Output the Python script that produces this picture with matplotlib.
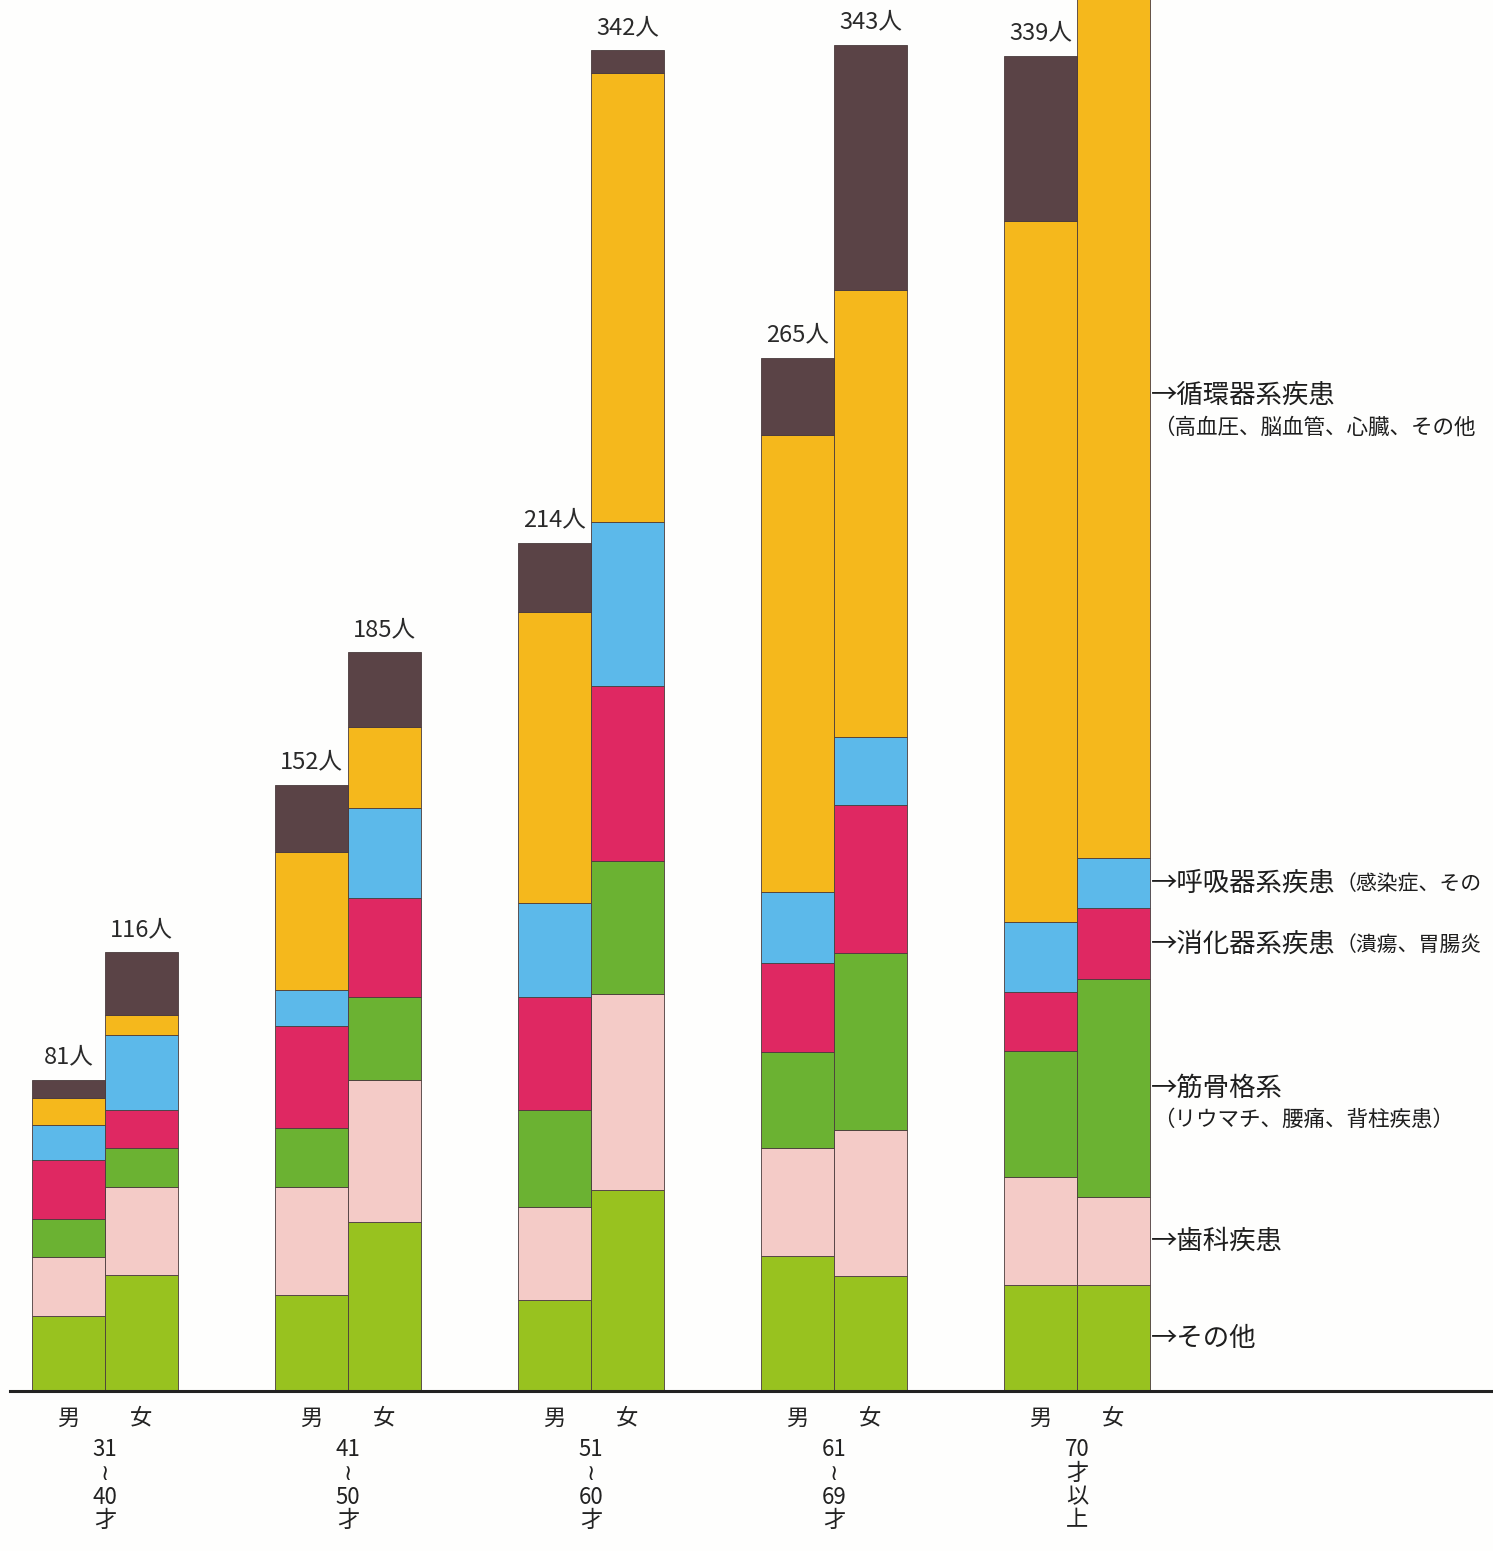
import matplotlib
matplotlib.use('Agg')
import matplotlib.pyplot as plt
import numpy as np

plt.rcParams['font.family'] = ['Noto Sans CJK JP', 'DejaVu Sans']

# ---------------- data ----------------
age_groups = [['31', '≀', '40', '才'],
              ['41', '≀', '50', '才'],
              ['51', '≀', '60', '才'],
              ['61', '≀', '69', '才'],
              ['70', '才', '以', '上']]
sexes = ['男', '女']
# bar order: (31-40 男, 31-40 女, 41-50 男, 41-50 女, ... 70以上 男, 70以上 女)
sonota    = [19.1, 29.6, 24.5, 43.1, 23.2, 51.3, 34.4, 29.3, 27.0, 27.0]   # その他
shika     = [15.1, 22.4, 27.6, 36.2, 23.7, 50.0, 27.6, 37.2, 27.6, 22.4]   # 歯科疾患
kinkotsu  = [ 9.7,  9.9, 15.1, 21.2, 24.7, 33.9, 24.5, 45.2, 32.1, 55.6]   # 筋骨格系
shoka     = [15.1,  9.9, 25.8, 25.3, 28.8, 44.6, 22.7, 37.8, 15.1, 18.1]   # 消化器系疾患
kokyu     = [ 8.9, 18.9,  9.2, 23.0, 24.2, 41.8, 18.1, 17.3, 17.9, 12.8]   # 呼吸器系疾患
junkan    = [ 6.9,  5.1, 35.2, 20.7, 74.2, 114.5, 116.6, 114.0, 178.8, 232.0]  # 循環器系疾患
unknown   = [ 4.6, 16.1, 17.3, 18.9, 17.6,  5.9, 19.6, 62.5, 42.1, 0.0]    # (top, dark)
totals = ['81人', '116人', '152人', '185人', '214人', '342人', '265人', '343人', '339人', '']

right_main = ['→その他', '→歯科疾患', '→筋骨格系', '→消化器系疾患', '→呼吸器系疾患', '→循環器系疾患']
right_sub = ['', '', '（リウマチ、腰痛、背柱疾患）', '（潰瘍、胃腸炎',
             '（感染症、その', '（高血圧、脳血管、心臓、その他']
sub_inline = [False, False, False, True, True, False]
junkan_label_y = 254.0

series = [sonota, shika, kinkotsu, shoka, kokyu, junkan, unknown]
colors = ['#98c21f', '#f4cbc7', '#6bb232', '#df2862', '#5cb9ea', '#f5b81c', '#5a4346']

# ---------------- figure ----------------
W, H = 1493, 1551
BASE = 1391          # baseline pixel row
PXU = 3.92           # pixels per person
GAP = 243            # pixels between group centres
X0 = 105             # pixel x of first group centre

fig = plt.figure(figsize=(W / 100, H / 100), dpi=100, facecolor='#fefefd')
ax = fig.add_axes([0, (H - BASE) / H, 1, BASE / H])
ax.set_facecolor('none')
ax.set_xlim(-X0 / GAP, (W - X0) / GAP)
ax.set_ylim(0, BASE / PXU)
ax.axis('off')

def pt(px):
    return px * 0.72

w = 0.30
xs = []
for i in range(len(age_groups)):
    xs += [i - w / 2, i + w / 2]
xs = np.array(xs)

bottom = np.zeros(len(xs))
for vals, c in zip(series, colors):
    v = np.array(vals)
    ax.bar(xs, v, w, bottom=bottom, color=c, edgecolor='#4a3b3c', linewidth=0.6)
    bottom += v

num_font = ['Liberation Sans Narrow', 'Noto Sans CJK JP', 'DejaVu Sans']

# total labels
for x, top, lab in zip(xs, bottom, totals):
    if lab:
        ax.annotate(lab, (x, top), xytext=(0, pt(23)), textcoords='offset points',
                    ha='center', va='center', fontsize=17, color='#2a2a2a',
                    family=num_font)

# baseline
ax.axhline(0, xmin=10 / W, xmax=1, color='#222222', lw=2.2, clip_on=False, zorder=5)

# sex labels
for i, x in enumerate(xs):
    ax.annotate(sexes[i % 2], (x, 0), xytext=(0, -pt(27)), textcoords='offset points',
                ha='center', va='center', fontsize=16, color='#222222', annotation_clip=False)

# age labels (vertical)
line_offsets = [59, 82, 106, 129]
for i, lines in enumerate(age_groups):
    for line, off in zip(lines, line_offsets):
        ax.annotate(line, (i, 0), xytext=(0, -pt(off)), textcoords='offset points',
                    ha='center', va='center', fontsize=16, color='#222222',
                    family=num_font, annotation_clip=False)

# right-side category labels, pointing at the last bar's segments
last = len(xs) - 1
seg_vals = np.array([s[last] for s in series[:6]])
cum = np.cumsum(seg_vals)
mids = cum - seg_vals / 2
label_y = list(mids[:5]) + [junkan_label_y]
x_right = xs[last] + w / 2
for main, sub, inline, y in zip(right_main, right_sub, sub_inline, label_y):
    t = ax.annotate(main, (x_right, y), xytext=(pt(1), 0), textcoords='offset points',
                    ha='left', va='center', fontsize=19, color='#1e1e1e',
                    annotation_clip=False)
    if sub:
        if inline:
            ax.annotate(sub, xy=(1, 0.5), xycoords=t, xytext=(0, -pt(1)),
                        textcoords='offset points', ha='left', va='center',
                        fontsize=15, color='#1e1e1e')
        else:
            ax.annotate(sub, (x_right, y), xytext=(pt(3), -pt(32)),
                        textcoords='offset points', ha='left', va='center',
                        fontsize=15.5, color='#1e1e1e', annotation_clip=False)

fig.savefig('out.png', dpi=100, facecolor=fig.get_facecolor())
